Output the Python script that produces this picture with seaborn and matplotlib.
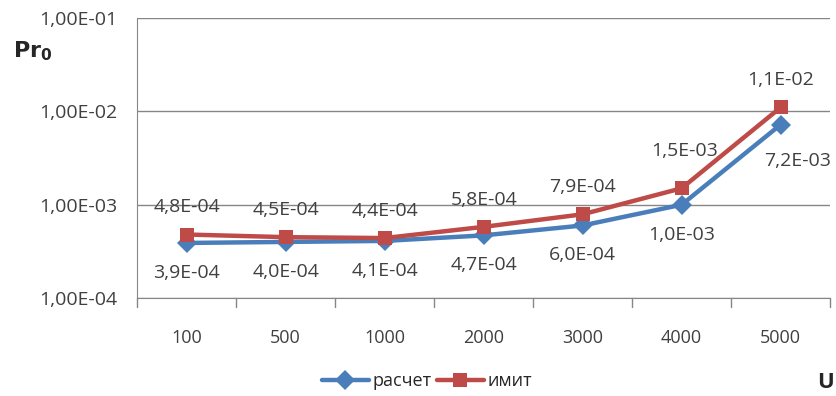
import pandas as pd
import matplotlib.pyplot as plt
import seaborn as sns

sns.set_style("white")
plt.rcParams["font.family"] = ["Open Sans", "DejaVu Sans"]

U = ["100", "500", "1000", "2000", "3000", "4000", "5000"]
raschet = [3.9e-4, 4.0e-4, 4.1e-4, 4.7e-4, 6.0e-4, 1.0e-3, 7.2e-3]
imit = [4.8e-4, 4.5e-4, 4.4e-4, 5.8e-4, 7.9e-4, 1.5e-3, 1.1e-2]

df = pd.DataFrame({
    "U": U * 2,
    "Pr": raschet + imit,
    "series": ["расчет"] * len(U) + ["имит"] * len(U),
})

def fmt(v):
    m, e = f"{v:.1E}".split("E")
    return f"{m.replace('.', ',')}E{e[0]}{e[1:].zfill(2)}"

fig = plt.figure(figsize=(8.36, 3.96), dpi=100)
ax = fig.add_axes([0.164, 0.247, 0.829, 0.708])

sns.lineplot(data=df, x="U", y="Pr", hue="series", style="series",
             markers={"расчет": "D", "имит": "s"}, dashes=False,
             palette={"расчет": "#4A7EBB", "имит": "#BE4B48"},
             linewidth=3.2, markersize=10, markeredgewidth=0, ax=ax)
ax.set_yscale("log")
ax.set_ylim(1e-4, 1e-1)
ax.set_xlim(-0.5, len(U) - 0.5)
ax.set_yticks([1e-4, 1e-3, 1e-2, 1e-1])
ax.set_yticklabels(["1,00E-04", "1,00E-03", "1,00E-02", "1,00E-01"])
ax.minorticks_off()
ax.yaxis.grid(True, color="#868686", linewidth=1)
ax.set_axisbelow(True)
for s in ["top", "right"]:
    ax.spines[s].set_visible(False)
for s in ["left", "bottom"]:
    ax.spines[s].set_color("#868686")
ax.tick_params(axis="y", length=5, color="#868686", labelsize=14, labelcolor="#404040", pad=9)
ax.tick_params(axis="x", length=0, labelsize=13, labelcolor="#404040", pad=22)
for b in [i + 0.5 for i in range(len(U) - 1)] + [-0.5, len(U) - 0.5]:
    ax.plot([b, b], [0, -0.03], transform=ax.get_xaxis_transform(),
            color="#868686", linewidth=1, clip_on=False)
ax.set_xlabel("")
ax.set_ylabel("")

for i, m in enumerate(imit):
    off = (0, 13) if i != 5 else (2, 20)
    ax.annotate(fmt(m), (i, m), xytext=off, textcoords="offset points",
                ha="center", va="bottom", fontsize=14, color="#404040")
for i, r in enumerate(raschet):
    off = (0, -15) if i < 6 else (12, -20)
    ax.annotate(fmt(r), (i, r), xytext=off, textcoords="offset points",
                ha="center", va="top", fontsize=14, color="#404040")

ax.legend(loc="upper center", bbox_to_anchor=(0.418, -0.205), ncol=2, frameon=False,
          fontsize=13, handlelength=2.6, columnspacing=0.3, handletextpad=0.2)

fig.text(0.015, 0.855, r"$\mathbf{Pr_0}$", fontsize=16, fontweight="bold")
fig.text(0.978, 0.02, "U", fontsize=16, fontweight="bold")

fig.savefig("out.png", dpi=100)
